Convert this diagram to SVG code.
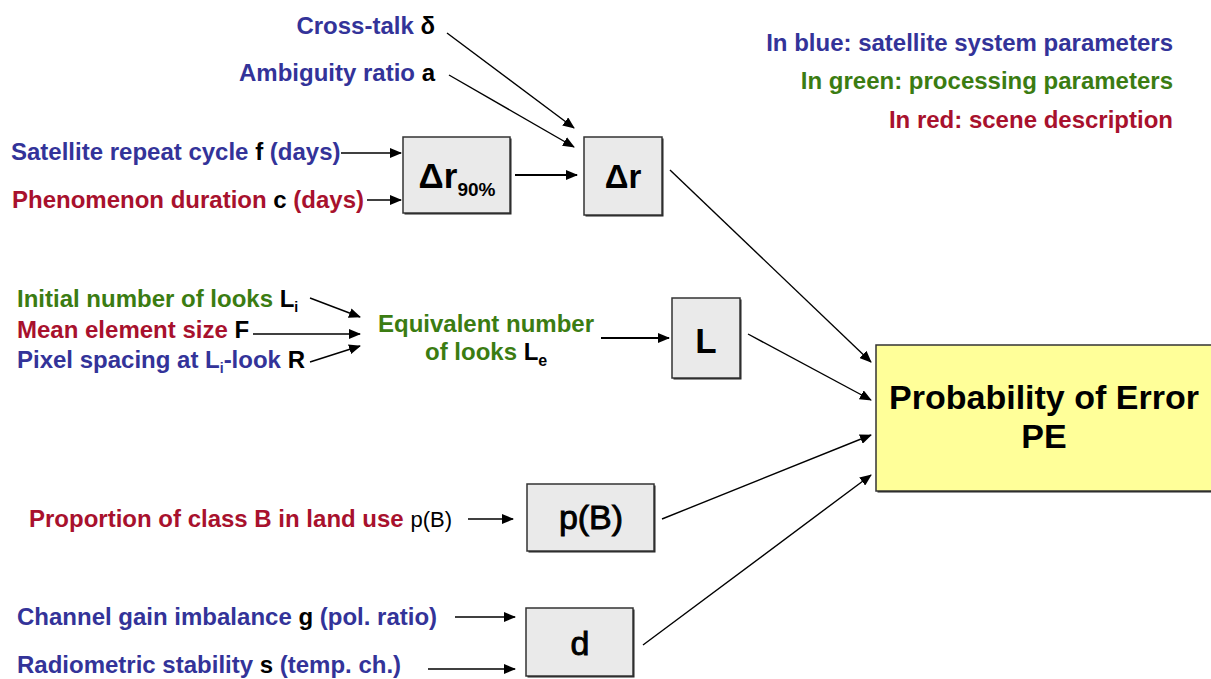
<svg xmlns="http://www.w3.org/2000/svg" width="1211" height="679" viewBox="0 0 1211 679">
<defs>
<style>
text{font-family:"Liberation Sans",Arial,sans-serif;}
.lb{font-size:24px;font-weight:bold;}
.b{fill:#333399;}
.g{fill:#3B7C12;}
.r{fill:#A8112D;}
.k{fill:#000;}
.box{fill:#EAEAEA;stroke:#333;stroke-width:1.5;}
.sh{fill:#222;}
.pe{fill:#FFFF99;stroke:#333;stroke-width:1.5;}
.bt{fill:#000;text-anchor:middle;}
.semi{font-size:34px;font-weight:normal;stroke:#000;stroke-width:0.9;}
.conn line{stroke:#000;stroke-width:1.4;marker-end:url(#ah);}
.conn line.t{stroke-width:2.2;}
</style>
<marker id="ah" markerUnits="userSpaceOnUse" markerWidth="12" markerHeight="10" viewBox="0 0 12 10" refX="11" refY="5" orient="auto">
<path d="M0,0 L12,5 L0,10 Z" fill="#000"/>
</marker>
</defs>
<rect width="1211" height="679" fill="#fff"/>

<g id="legend" class="lb" text-anchor="end">
<text x="1173" y="51" class="b">In blue: satellite system parameters</text>
<text x="1173" y="89" class="g">In green: processing parameters</text>
<text x="1173" y="128" class="r">In red: scene description</text>
</g>

<g id="inputs" class="lb">
<text x="435" y="34" text-anchor="end"><tspan class="b">Cross-talk </tspan><tspan class="k">δ</tspan></text>
<text x="435" y="81" text-anchor="end"><tspan class="b">Ambiguity ratio </tspan><tspan class="k">a</tspan></text>
<text x="11" y="160"><tspan class="b">Satellite repeat cycle </tspan><tspan class="k">f</tspan><tspan class="b"> (days)</tspan></text>
<text x="12" y="208"><tspan class="r">Phenomenon duration </tspan><tspan class="k">c</tspan><tspan class="r"> (days)</tspan></text>
<text x="17" y="307"><tspan class="g">Initial number of looks </tspan><tspan class="k">L</tspan><tspan class="k" style="font-size:14px" dy="5">i</tspan></text>
<text x="17" y="338"><tspan class="r">Mean element size </tspan><tspan class="k">F</tspan></text>
<text x="17" y="368"><tspan class="b">Pixel spacing at L</tspan><tspan class="b" style="font-size:14px" dy="5">i</tspan><tspan class="b" dy="-5">-look </tspan><tspan class="k">R</tspan></text>
<text x="486" y="332" text-anchor="middle" class="g">Equivalent number</text>
<text x="425" y="360"><tspan class="g">of looks </tspan><tspan class="k">L</tspan><tspan class="k" style="font-size:16px" dy="6">e</tspan></text>
<text x="29" y="527"><tspan class="r">Proportion of class B in land use </tspan><tspan class="k" style="font-weight:normal;font-size:22px">p(B)</tspan></text>
<text x="17" y="625"><tspan class="b">Channel gain imbalance </tspan><tspan class="k">g</tspan><tspan class="b"> (pol. ratio)</tspan></text>
<text x="17" y="673"><tspan class="b">Radiometric stability </tspan><tspan class="k">s</tspan><tspan class="b"> (temp. ch.)</tspan></text>
</g>

<g id="node-dr90">
<rect x="404.5" y="138.5" width="107" height="76" class="sh"/>
<rect x="403" y="137" width="107" height="76" class="box"/>
<text x="457" y="188" class="bt" style="font-size:35px;font-weight:bold">Δr<tspan style="font-size:19px" dy="8">90%</tspan></text>
</g>
<g id="node-dr">
<rect x="585.5" y="138.5" width="78" height="78" class="sh"/>
<rect x="584" y="137" width="78" height="78" class="box"/>
<text x="623" y="188" class="bt" style="font-size:33px;font-weight:bold">Δr</text>
</g>
<g id="node-L">
<rect x="673.5" y="299.5" width="68" height="80" class="sh"/>
<rect x="672" y="298" width="68" height="80" class="box"/>
<text x="706" y="353" class="bt" style="font-size:35px;font-weight:bold">L</text>
</g>
<g id="node-pB">
<rect x="528.5" y="485.5" width="127" height="67" class="sh"/>
<rect x="527" y="484" width="127" height="67" class="box"/>
<text x="591" y="529" class="bt semi">p(B)</text>
</g>
<g id="node-d">
<rect x="527.5" y="609.5" width="107" height="68" class="sh"/>
<rect x="526" y="608" width="107" height="68" class="box"/>
<text x="580" y="655" class="bt semi">d</text>
</g>
<g id="node-PE">
<rect x="877.5" y="346.5" width="336" height="146" class="sh"/>
<rect x="876" y="345" width="336" height="146" class="pe"/>
<text x="1044" y="409" class="bt" style="font-size:34px;font-weight:bold">Probability of Error</text>
<text x="1044" y="448" class="bt" style="font-size:34px;font-weight:bold">PE</text>
</g>

<g id="connectors" class="conn">
<line x1="447" y1="33" x2="574" y2="128"/>
<line x1="449" y1="75" x2="574" y2="147"/>
<line x1="341" y1="153" x2="401" y2="153"/>
<line x1="367" y1="200" x2="401" y2="200"/>
<line class="t" x1="515" y1="175" x2="577" y2="175"/>
<line x1="670" y1="170" x2="871" y2="362"/>
<line x1="310" y1="298" x2="360" y2="317"/>
<line x1="253" y1="334" x2="360" y2="334"/>
<line x1="310" y1="362" x2="360" y2="346"/>
<line class="t" x1="601" y1="338" x2="669" y2="338"/>
<line x1="748" y1="334" x2="871" y2="400"/>
<line x1="468" y1="519" x2="513" y2="519"/>
<line x1="662" y1="519" x2="871" y2="435"/>
<line x1="455" y1="617" x2="515" y2="617"/>
<line x1="428" y1="669" x2="515" y2="669"/>
<line x1="643" y1="645" x2="871" y2="475"/>
</g>
</svg>
